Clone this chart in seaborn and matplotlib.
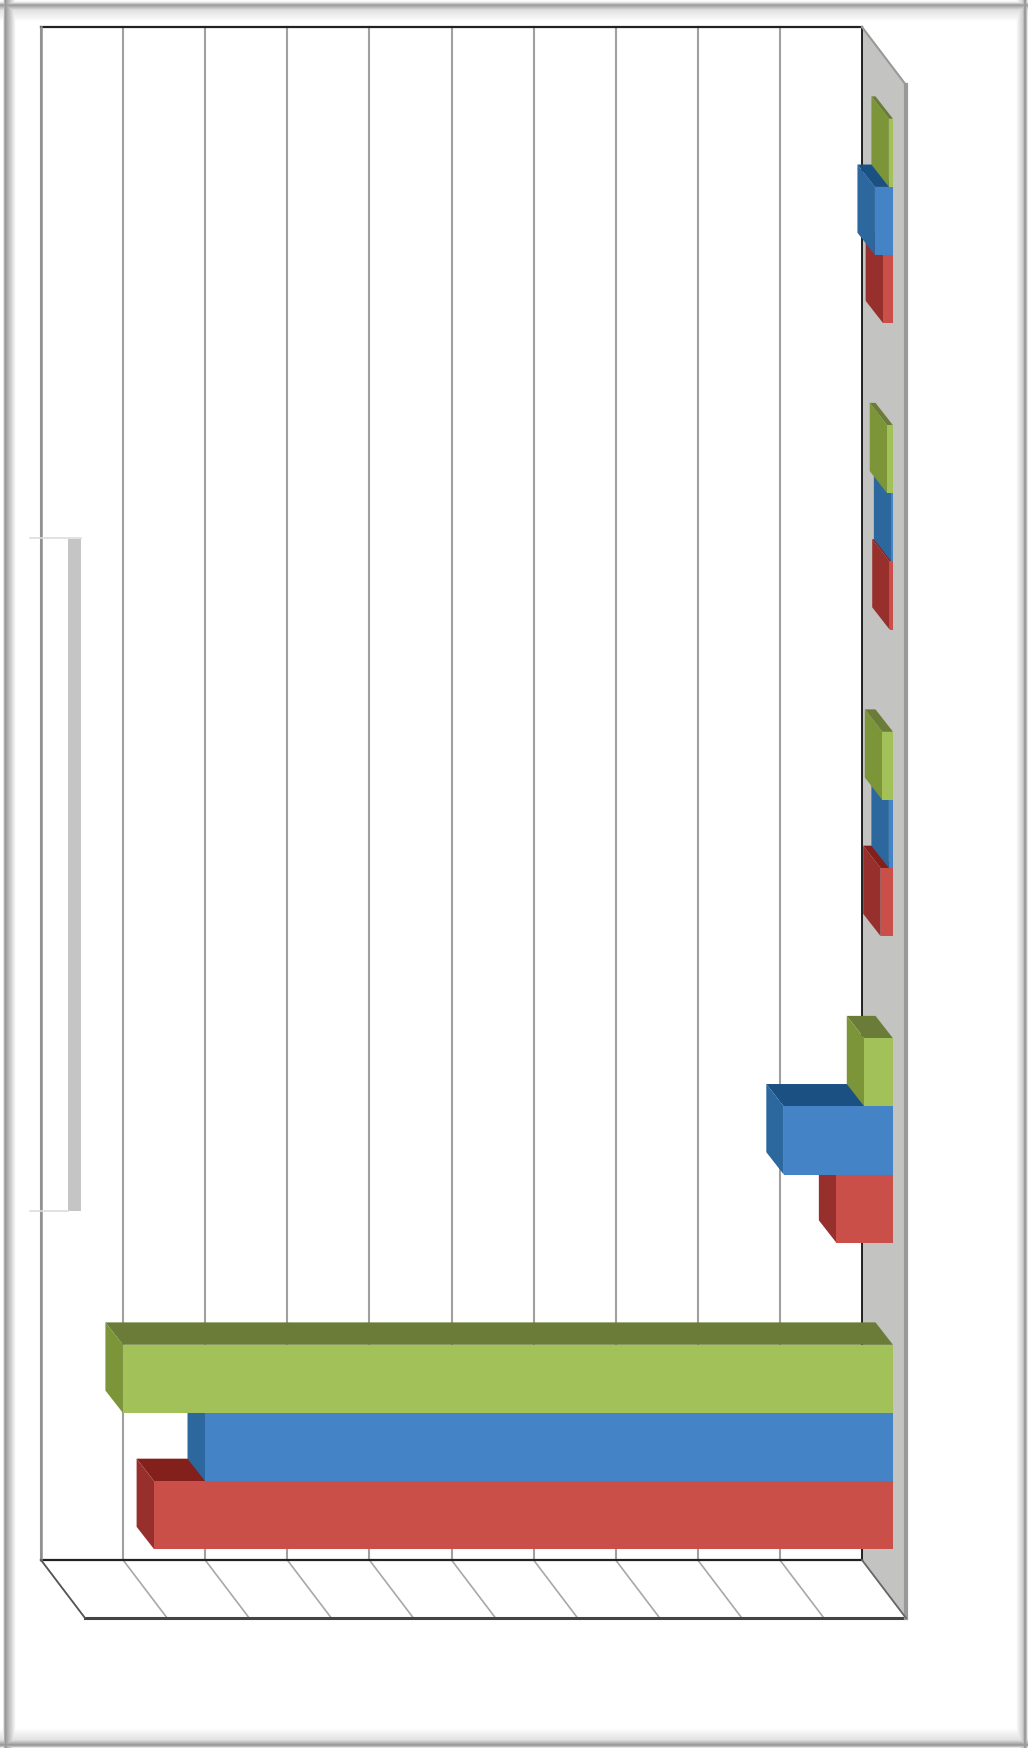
import numpy as np
import pandas as pd
import matplotlib
matplotlib.use("Agg")
import matplotlib.pyplot as plt
from matplotlib.patches import Polygon, Rectangle
import seaborn as sns

# values, in gridline units
groups = ["1", "2", "3", "4", "5"]
series_1 = [0.12, 0.04, 0.15, 0.69, 9.00]   # red
series_2 = [0.22, 0.02, 0.05, 1.33, 8.38]   # blue
series_3 = [0.05, 0.07, 0.13, 0.35, 9.38]   # green

front_colors = {"Series 3": "#A2C158", "Series 2": "#4484C6", "Series 1": "#C94F48"}
side_colors = {"Series 3": "#7C9539", "Series 2": "#2C689E", "Series 1": "#97302D"}
top_colors = {"Series 3": "#6A7C37", "Series 2": "#1B5082", "Series 1": "#83201B"}
# the red bars are painted first, green last
paint_order = ["Series 1", "Series 2", "Series 3"]

df = pd.DataFrame({
    "group": groups * 3,
    "series": ["Series 1"] * 5 + ["Series 2"] * 5 + ["Series 3"] * 5,
    "value": series_1 + series_2 + series_3,
})

W, H = 1028, 1748
fig = plt.figure(figsize=(W / 100, H / 100), dpi=100)

# ====================== FRAME AND WALLS (pixel coords) ======================
bg = fig.add_axes([0, 0, 1, 1])
xx = np.arange(W) + 0.5
yy = np.arange(H) + 0.5
left = np.interp(xx, [0, 3, 5, 8, 16], [0, 0, 0.42, 0.3, 0])
right = np.interp(xx, [1016, 1023, 1025, 1027, 1028], [0, 0.2, 0.45, 0.2, 0])
top = np.interp(yy, [0, 2, 5, 10, 22], [0, 0.05, 0.4, 0.12, 0])
bottom = np.interp(yy, [1728, 1740, 1745, 1747, 1748], [0, 0.12, 0.42, 0.2, 0])
shade = np.maximum.reduce([
    np.tile(left, (H, 1)), np.tile(right, (H, 1)),
    np.tile(top[:, None], (1, W)), np.tile(bottom[:, None], (1, W)),
])
bg.imshow(1 - shade, cmap="gray", vmin=0, vmax=1, extent=(0, W, H, 0), aspect="auto", zorder=0)
bg.set_xlim(0, W)
bg.set_ylim(H, 0)
bg.axis("off")

wall_l, wall_r, wall_t, wall_b = 41, 862, 27, 1560
depth_x, depth_y = 44, 58
grid_x = np.linspace(wall_l, wall_r, 11)

bg.add_patch(Polygon([(wall_r, wall_t), (wall_r + depth_x, wall_t + depth_y),
                      (wall_r + depth_x, wall_b + depth_y), (wall_r, wall_b)],
                     facecolor="#C3C3C1", edgecolor="none", zorder=1))
for gx in grid_x[:-1]:
    bg.plot([gx, gx], [wall_t, wall_b], color="#A0A0A0", lw=1.5, zorder=2)
for gx in grid_x:
    bg.plot([gx, gx + depth_x], [wall_b, wall_b + depth_y], color="#A8A8A8", lw=1.2, zorder=2)
bg.plot([wall_r, wall_r], [wall_t, wall_b], color="#111111", lw=1.3, zorder=3)
bg.plot([wall_l, wall_r], [wall_t, wall_t], color="#222222", lw=1.6, zorder=3)
bg.plot([wall_l, wall_r], [wall_b, wall_b], color="#222222", lw=1.6, zorder=3)
bg.plot([wall_l + depth_x, wall_r + depth_x], [wall_b + depth_y] * 2, color="#444444", lw=2.2, zorder=3)
bg.plot([wall_r + depth_x] * 2, [wall_t + depth_y, wall_b + depth_y], color="#999999", lw=3, zorder=3)
bg.plot([wall_r, wall_r + depth_x], [wall_t, wall_t + depth_y], color="#999999", lw=1.5, zorder=3)
bg.plot([wall_r, wall_r + depth_x], [wall_b, wall_b + depth_y], color="#666666", lw=1.2, zorder=3)
bg.plot([wall_l, wall_l], [wall_t, wall_b], color="#8F8F8F", lw=1.8, zorder=3)
bg.plot([wall_l, wall_l + depth_x], [wall_b, wall_b + depth_y], color="#555555", lw=1.2, zorder=3)

# empty legend box
bg.add_patch(Rectangle((68, 539), 13, 672, facecolor="#C5C5C5", edgecolor="none", zorder=4))
bg.plot([30, 81], [538, 538], color="#DDDDDD", lw=1.2, zorder=4)
bg.plot([30, 68], [1211, 1211], color="#DDDDDD", lw=1.2, zorder=4)

# ====================== BARS ======================
ax = fig.add_axes([0, 0, 1, 1])
ax.patch.set_alpha(0)
sns.barplot(data=df, y="group", x="value", hue="series", order=groups,
            hue_order=paint_order[::-1], palette=front_colors, saturation=1,
            width=0.667, gap=0, legend=False, ax=ax)

# value 0 sits at px 893, one unit is 82.1 px, groups are 306.5 px apart
px_per_unit = 82.1
px_per_group = 306.5
ax.set_xlim(893 / px_per_unit, (893 - W) / px_per_unit)
ax.set_ylim((H - 221) / px_per_group, -221 / px_per_group)
ax.axis("off")

off_x = 17.5 / px_per_unit
off_y = 22.4 / px_per_group

for i, (name, bars) in enumerate(zip(paint_order[::-1], ax.containers)):
    level = 3 + 3 * (2 - i)
    for bar in bars:
        v = bar.get_width()
        y0 = bar.get_y()
        y1 = y0 + bar.get_height()
        ax.add_patch(Polygon([(0, y0), (v, y0), (v + off_x, y0 - off_y), (off_x, y0 - off_y)],
                             facecolor=top_colors[name], edgecolor="none", zorder=level))
        ax.add_patch(Polygon([(v, y0), (v, y1), (v + off_x, y1 - off_y), (v + off_x, y0 - off_y)],
                             facecolor=side_colors[name], edgecolor="none", zorder=level + 1))
        bar.set_zorder(level + 2)

fig.savefig("out.png", dpi=100)
